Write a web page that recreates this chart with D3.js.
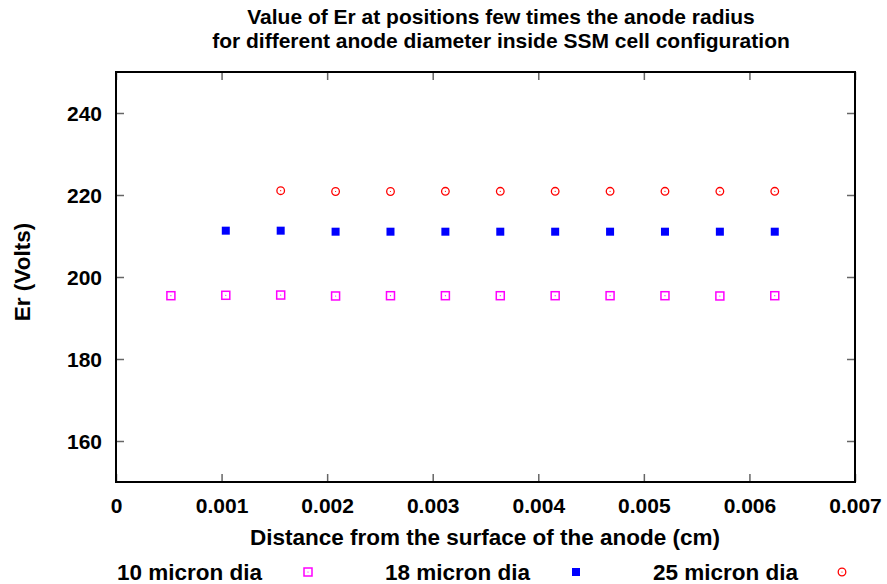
<!DOCTYPE html>
<html>
<head>
<meta charset="utf-8">
<script src="https://cdn.jsdelivr.net/npm/d3@7"></script>
<style>
  html, body { margin: 0; padding: 0; background: #fff; }
  svg { display: block; }
  text { font-family: "Liberation Sans", Arial, Helvetica, sans-serif; font-weight: bold; fill: #000; }
</style>
</head>
<body>
<script>
// ---- data ----
const titleLines = ["Value of Er at positions few times the anode radius",
                    "for different anode diameter inside SSM cell configuration"];
const xLabel = "Distance from the surface of the anode (cm)";
const yLabel = "Er (Volts)";
const xTicks = [0, 0.001, 0.002, 0.003, 0.004, 0.005, 0.006, 0.007];
const yTicks = [160, 180, 200, 220, 240];
const seriesNames = ["10 micron dia", "18 micron dia", "25 micron dia"];

const x10 = [0.00052, 0.00104, 0.00156, 0.00208, 0.00260, 0.00312, 0.00364, 0.00416, 0.00468, 0.00520, 0.00572, 0.00624];
const y10 = [195.44, 195.54, 195.6, 195.37, 195.44, 195.44, 195.44, 195.44, 195.44, 195.44, 195.37, 195.44];
const x18 = [0.00104, 0.00156, 0.00208, 0.00260, 0.00312, 0.00364, 0.00416, 0.00468, 0.00520, 0.00572, 0.00624];
const y18 = [211.3, 211.3, 211.05, 211.05, 211.05, 211.05, 211.05, 211.05, 211.05, 211.05, 211.05];
const x25 = [0.00156, 0.00208, 0.00260, 0.00312, 0.00364, 0.00416, 0.00468, 0.00520, 0.00572, 0.00624];
const y25 = [221.05, 220.85, 220.85, 220.9, 220.9, 220.9, 220.9, 220.9, 220.9, 220.9];

// ---- layout ----
const W = 887, H = 584;
const L = 116, R = 855, T = 72, B = 482;
const FS = "21px";     // ticks, title
const FL = "22.5px";   // axis labels, legend
const svg = d3.select("body").append("svg").attr("width", W).attr("height", H);

const x = d3.scaleLinear().domain([0, 0.007]).range([L, R]);
const y = d3.scaleLinear().domain([150, 250]).range([B, T]);

// ticks (inward, mirrored)
const tickLen = 8;
const axB = d3.axisBottom(x).tickValues(xTicks).tickSize(-tickLen).tickFormat(d => d === 0 ? "0" : d3.format(".3f")(d));
const axT = d3.axisTop(x).tickValues(xTicks).tickSize(-tickLen).tickFormat("");
const axL = d3.axisLeft(y).tickValues(yTicks).tickSize(-tickLen).tickFormat(d3.format("d"));
const axR = d3.axisRight(y).tickValues(yTicks).tickSize(-tickLen).tickFormat("");

function styleAxis(g) {
  g.select(".domain").remove();
  g.selectAll(".tick line").attr("stroke", "#666").attr("stroke-width", 1.5);
  g.selectAll(".tick text").style("font-size", FS).style("font-weight", "bold").attr("fill", "#000")
    .style("font-family", '"Liberation Sans", Arial, sans-serif');
}
svg.append("g").attr("transform", `translate(0,${B})`).call(axB).call(styleAxis)
  .selectAll(".tick text").attr("dy", "0.35em").attr("y", 24);
svg.append("g").attr("transform", `translate(0,${T})`).call(axT).call(styleAxis);
svg.append("g").attr("transform", `translate(${L},0)`).call(axL).call(styleAxis)
  .selectAll(".tick text").attr("x", -14).attr("dy", "0.35em");
svg.append("g").attr("transform", `translate(${R},0)`).call(axR).call(styleAxis);

// frame
svg.append("rect").attr("x", L).attr("y", T).attr("width", R - L).attr("height", B - T)
  .attr("fill", "none").attr("stroke", "#000").attr("stroke-width", 2);

// titles
svg.append("text").attr("text-anchor", "middle").style("font-size", FS)
  .selectAll("tspan").data(titleLines).join("tspan")
  .attr("x", 501).attr("y", (d, i) => 17 + i * 24).attr("dy", "0.35em").text(d => d);
svg.append("text").attr("x", 485).attr("y", 537).attr("dy", "0.35em").attr("text-anchor", "middle")
  .style("font-size", FL).text(xLabel);
svg.append("text").attr("transform", `translate(22,272) rotate(-90)`).attr("dy", "0.35em")
  .attr("text-anchor", "middle").style("font-size", FL).text(yLabel);

// markers
const colPink = "#ff00ff", colBlue = "#0000ff", colRed = "#ff0000";
function openSquare(g, cx, cy) {
  g.append("rect").attr("x", cx - 4).attr("y", cy - 4).attr("width", 8).attr("height", 8)
    .attr("fill", "none").attr("stroke", colPink).attr("stroke-width", 1.5);
  g.append("circle").attr("cx", cx).attr("cy", cy).attr("r", 0.6).attr("fill", colPink);
}
function fillSquare(g, cx, cy) {
  g.append("rect").attr("x", cx - 4).attr("y", cy - 4).attr("width", 8).attr("height", 8)
    .attr("fill", colBlue);
}
function openCircle(g, cx, cy) {
  g.append("circle").attr("cx", cx).attr("cy", cy).attr("r", 3.8)
    .attr("fill", "none").attr("stroke", colRed).attr("stroke-width", 1.3);
  g.append("circle").attr("cx", cx).attr("cy", cy).attr("r", 0.6).attr("fill", colRed);
}
const pts = svg.append("g");
x10.forEach((d, i) => openSquare(pts, x(d), y(y10[i])));
x18.forEach((d, i) => fillSquare(pts, x(d), y(y18[i])));
x25.forEach((d, i) => openCircle(pts, x(d), y(y25[i])));

// legend
const legY = 572;
const legX = [117, 385, 653];
const legM = [308, 576, 842];
const drawers = [openSquare, fillSquare, openCircle];
seriesNames.forEach((name, i) => {
  svg.append("text").attr("x", legX[i]).attr("y", legY).attr("dy", "0.35em")
    .style("font-size", FL).text(name);
  drawers[i](svg, legM[i], legY);
});
</script>
</body>
</html>
